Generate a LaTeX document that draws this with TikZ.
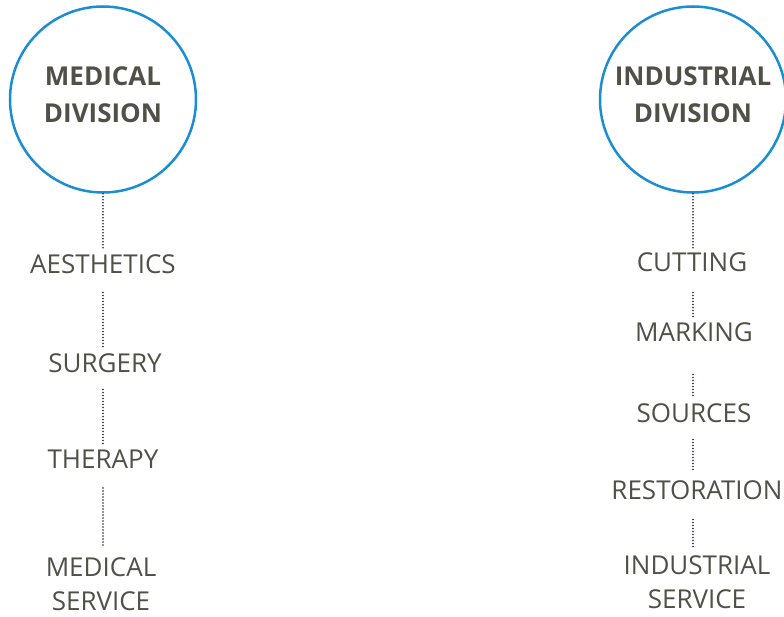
\documentclass[tikz,border=0pt]{standalone}
\usepackage{fontspec}
\setmainfont{Open Sans}
\definecolor{ringblue}{HTML}{1B8DD3}
\definecolor{labelgrey}{HTML}{505048}
\definecolor{dotnavy}{HTML}{221D4A}
\begin{document}
\begin{tikzpicture}[x=1pt,y=-1pt,
  ring/.style={circle,draw=ringblue,line width=2.5pt,minimum size=186pt,inner sep=0pt},
  headtext/.style={text=labelgrey,font=\fontsize{26}{37}\selectfont\bfseries,align=center,inner sep=0pt},
  item/.style={text=labelgrey,font=\fontsize{26}{34}\selectfont,align=center,inner sep=0pt,anchor=north},
  dotline/.style={draw=dotnavy,line width=1.9pt,line cap=round,dash pattern=on 0pt off 3pt}]
\useasboundingbox (0,0) rectangle (784,617);

% medical branch
\node[ring] (med) at (103,99.5) {};
\node[headtext] (medt) at ([yshift=4.5pt]med.center) {MEDICAL\\DIVISION};
\node[item] (aes) at (103,254) {AESTHETICS};
\node[item] (sur) at (105,353) {SURGERY};
\node[item] (ther) at (103,450) {THERAPY};
\node[item] (msrv) at (101,557) {MEDICAL\\SERVICE};

\draw[dotline,shorten >=6pt] (med.south) -- (med.south |- aes.north);
\draw[dotline,shorten <=19pt,shorten >=5pt] (med.south |- aes.south) -- (med.south |- sur.north);
\draw[dotline,shorten <=17pt,shorten >=5pt] (med.south |- sur.south) -- (med.south |- ther.north);
\draw[dotline,shorten <=19pt,shorten >=10pt] (med.south |- ther.south) -- (med.south |- msrv.north);

% industrial branch
\node[ring] (ind) at (693,99.5) {};
\node[headtext] (indt) at ([yshift=4.5pt]ind.center) {INDUSTRIAL\\DIVISION};
\node[item] (cut) at (692,252) {CUTTING};
\node[item] (mark) at (694,322) {MARKING};
\node[item] (src) at (694,403) {SOURCES};
\node[item] (rest) at (697,480) {RESTORATION};
\node[item] (isrv) at (697,555) {INDUSTRIAL\\SERVICE};

\draw[dotline,shorten >=4pt] (ind.south) -- (ind.south |- cut.north);
\draw[dotline,shorten <=21pt,shorten >=5pt] (ind.south |- cut.south) -- (ind.south |- mark.north);
\draw[dotline,shorten <=33pt,shorten >=6pt] (ind.south |- mark.south) -- (ind.south |- src.north);
\draw[dotline,shorten <=17pt,shorten >=10pt] (ind.south |- src.south) -- (ind.south |- rest.north);
\draw[dotline,shorten <=20pt,shorten >=7pt] (ind.south |- rest.south) -- (ind.south |- isrv.north);
\end{tikzpicture}
\end{document}
